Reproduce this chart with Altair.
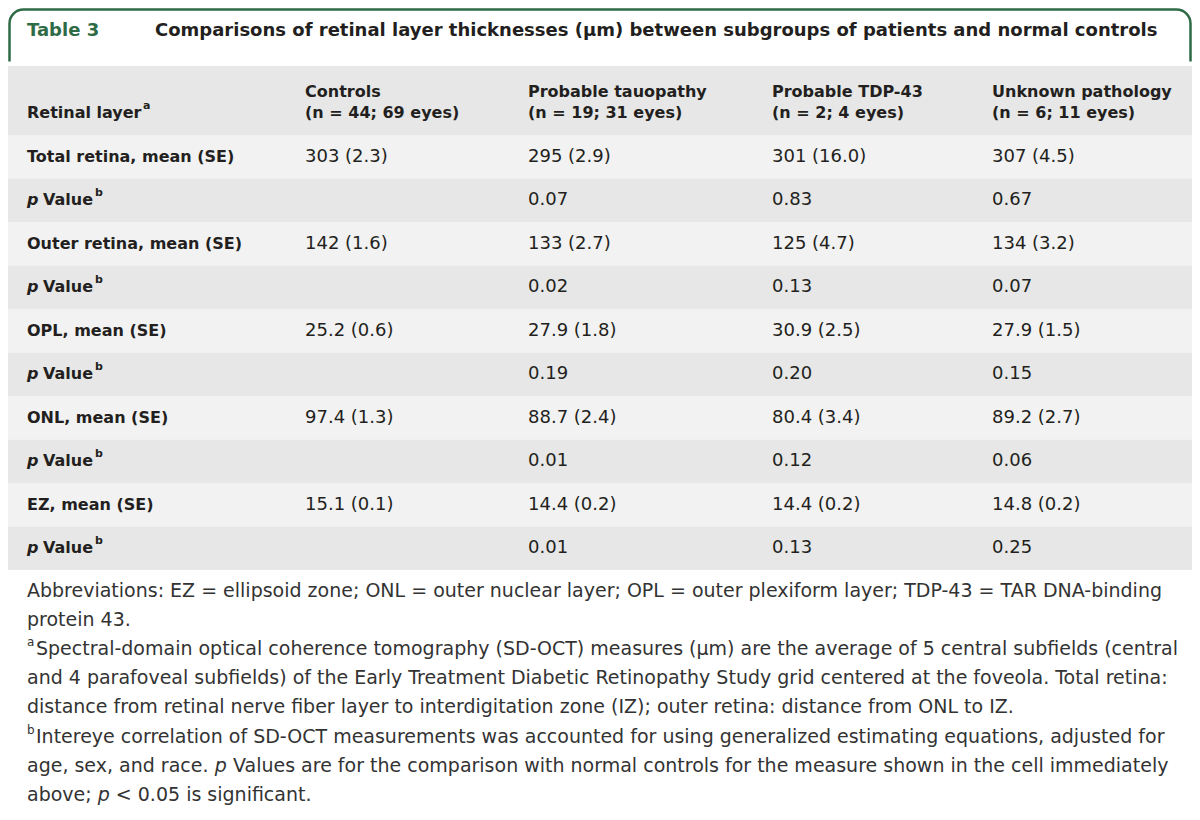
import altair as alt
import pandas as pd

# ---------------- data (table content) ----------------
table_number = "Table 3"
table_title = ("Comparisons of retinal layer thicknesses (\u03bcm) between subgroups "
               "of patients and normal controls")
stub_header = "Retinal layer"
stub_header_note = "a"
group_names = ["Controls", "Probable tauopathy", "Probable TDP-43", "Unknown pathology"]
group_sizes = ["(n = 44; 69 eyes)", "(n = 19; 31 eyes)", "(n = 2; 4 eyes)", "(n = 6; 11 eyes)"]
row_labels = ["Total retina, mean (SE)", "p Value", "Outer retina, mean (SE)", "p Value",
              "OPL, mean (SE)", "p Value", "ONL, mean (SE)", "p Value",
              "EZ, mean (SE)", "p Value"]
row_notes = ["", "b", "", "b", "", "b", "", "b", "", "b"]
controls = ["303 (2.3)", "", "142 (1.6)", "", "25.2 (0.6)", "", "97.4 (1.3)", "", "15.1 (0.1)", ""]
tauopathy = ["295 (2.9)", "0.07", "133 (2.7)", "0.02", "27.9 (1.8)", "0.19",
             "88.7 (2.4)", "0.01", "14.4 (0.2)", "0.01"]
tdp43 = ["301 (16.0)", "0.83", "125 (4.7)", "0.13", "30.9 (2.5)", "0.20",
         "80.4 (3.4)", "0.12", "14.4 (0.2)", "0.13"]
unknown = ["307 (4.5)", "0.67", "134 (3.2)", "0.07", "27.9 (1.5)", "0.15",
           "89.2 (2.7)", "0.06", "14.8 (0.2)", "0.25"]
footnote_lines = [
    [("Abbreviations: EZ = ellipsoid zone; ONL = outer nuclear layer; OPL = outer plexiform layer; "
      "TDP-43 = TAR DNA-binding", "reg")],
    [("protein 43.", "reg")],
    [("a", "sup"), ("Spectral-domain optical coherence tomography (SD-OCT) measures (\u03bcm) are the "
                    "average of 5 central subfields (central", "reg")],
    [("and 4 parafoveal subfields) of the Early Treatment Diabetic Retinopathy Study grid centered "
      "at the foveola. Total retina:", "reg")],
    [("distance from retinal nerve fiber layer to interdigitation zone (IZ); outer retina: distance "
      "from ONL to IZ.", "reg")],
    [("b", "sup"), ("Intereye correlation of SD-OCT measurements was accounted for using generalized "
                    "estimating equations, adjusted for", "reg")],
    [("age, sex, and race. ", "reg"), ("p ", "ital"),
     ("Values are for the comparison with normal controls for the measure shown in the cell immediately", "reg")],
    [("above; ", "reg"), ("p ", "ital"), ("< 0.05 is significant.", "reg")],
]

# ---------------- layout / style ----------------
W, H = 1184, 804
OFF = 8
COL_X = [27, 305, 528, 772, 992]
TITLE_Y = 31
TITLE_X = 155
HEADER_TOP, BODY_TOP, ROW_H = 66, 135, 43.5
HEAD_Y1, HEAD_Y2 = 92, 113
FOOT_TOP, FOOT_LH = 591, 29.1
FOOT_X, SUP_GAP = 27, 9
P_GAP, VALUE_W = 16, 52
GREEN = "#2e6b45"
INK = "#231f20"
DARK_BAND = "#e6e7e6"
LIGHT_BAND = "#f2f2f2"
FOOT_SIZE = 19

# approximate DejaVu Sans advance widths (per 1000 em) for inline italic offsets
DV = {" ": 318, "a": 613, "b": 635, "c": 550, "d": 635, "e": 615, "g": 635, "n": 634,
      "o": 612, "r": 411, "s": 521, "v": 592, "x": 592, ",": 318, ".": 318, ";": 337, "p": 635}


def text_w(s, size):
    return sum(DV.get(ch, 600) for ch in s) * size / 1000.0


texts = []


def add(x, y, t, style):
    texts.append({"x": x, "y": y, "t": t, "style": style})


# title
add(COL_X[0], TITLE_Y, table_number, "title_num")
add(TITLE_X, TITLE_Y, table_title, "title")

# header
add(COL_X[0], HEAD_Y2, stub_header, "bold")
add(COL_X[0] + 116, HEAD_Y2 - 7, stub_header_note, "sup_bold")
for i, (g, n) in enumerate(zip(group_names, group_sizes)):
    add(COL_X[i + 1], HEAD_Y1, g, "bold")
    add(COL_X[i + 1], HEAD_Y2, n, "bold")

# body
for r, lab in enumerate(row_labels):
    yc = BODY_TOP + ROW_H * r + ROW_H / 2
    if lab.startswith("p "):
        add(COL_X[0], yc, "p", "bold_ital")
        add(COL_X[0] + P_GAP, yc, lab[2:], "bold")
        add(COL_X[0] + P_GAP + VALUE_W, yc - 7, row_notes[r], "sup_bold")
    else:
        add(COL_X[0], yc, lab, "bold")
    for c, col in enumerate([controls, tauopathy, tdp43, unknown]):
        if col[r]:
            add(COL_X[c + 1], yc, col[r], "data")

# footnotes
for li, segs in enumerate(footnote_lines):
    yc = FOOT_TOP + FOOT_LH * li
    x = FOOT_X
    for s, st in segs:
        if st == "sup":
            add(x, yc - 7, s, "sup")
            x += SUP_GAP
        else:
            add(x, yc, s.strip(), "foot" if st == "reg" else "foot_ital")
            x += text_w(s, FOOT_SIZE)

tdf = pd.DataFrame(texts)

# background bands
bands = [{"x": OFF, "x2": OFF + W, "y": 61.5, "y2": HEADER_TOP, "fill": "#ffffff"},
         {"x": OFF, "x2": OFF + W, "y": HEADER_TOP, "y2": BODY_TOP, "fill": DARK_BAND}]
for r in range(len(row_labels)):
    bands.append({"x": OFF, "x2": OFF + W, "y": BODY_TOP + ROW_H * r,
                  "y2": BODY_TOP + ROW_H * (r + 1),
                  "fill": LIGHT_BAND if r % 2 == 0 else DARK_BAND})
bdf = pd.DataFrame(bands)
box = pd.DataFrame([{"x": 9.5, "x2": 1190.5, "y": 9.5, "y2": 90}])

xs = alt.Scale(domain=[OFF, OFF + W], nice=False, zero=False)
ys = alt.Scale(domain=[OFF, OFF + H], nice=False, zero=False, reverse=True)
X = alt.X("x:Q", scale=xs, axis=None)
Y = alt.Y("y:Q", scale=ys, axis=None)

box_layer = alt.Chart(box).mark_rect(
    fill="#ffffff", stroke=GREEN, strokeWidth=2.5, cornerRadius=14
).encode(x=X, x2="x2:Q", y=Y, y2="y2:Q")

band_layer = alt.Chart(bdf).mark_rect().encode(
    x=X, x2="x2:Q", y=Y, y2="y2:Q", color=alt.Color("fill:N", scale=None))

styles = {
    "title_num": dict(font="DejaVu Sans", fontSize=18, fontWeight="bold", color=GREEN),
    "title": dict(font="DejaVu Sans", fontSize=18, fontWeight="bold", color=INK),
    "bold": dict(font="DejaVu Sans", fontSize=16, fontWeight="bold", color=INK),
    "bold_ital": dict(font="DejaVu Sans", fontSize=16, fontWeight="bold", fontStyle="italic", color=INK),
    "sup_bold": dict(font="DejaVu Sans", fontSize=11, fontWeight="bold", color=INK),
    "data": dict(font="DejaVu Sans", fontSize=18, color=INK),
    "foot": dict(font="DejaVu Sans", fontSize=FOOT_SIZE, color="#333333"),
    "foot_ital": dict(font="DejaVu Sans", fontSize=FOOT_SIZE, fontStyle="italic", color="#333333"),
    "sup": dict(font="DejaVu Sans", fontSize=12, color="#333333"),
}

text_layers = []
for name, st in styles.items():
    text_layers.append(
        alt.Chart(tdf).transform_filter(alt.datum.style == name)
        .mark_text(align="left", baseline="middle", **st)
        .encode(x=X, y=Y, text="t:N")
    )

chart = alt.layer(box_layer, band_layer, *text_layers).properties(
    width=W, height=H, padding=0, background="#ffffff",
    autosize=alt.AutoSizeParams(type="none", contains="padding"),
).configure_view(strokeWidth=0)

chart.save("out.html", embed_options={"renderer": "svg", "actions": False})
